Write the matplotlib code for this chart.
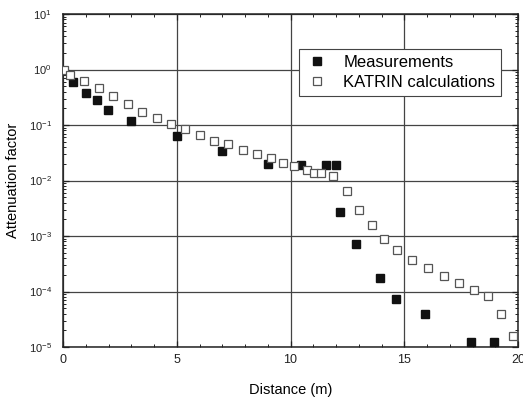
import matplotlib
matplotlib.use("Agg")
import matplotlib.pyplot as plt
from matplotlib.ticker import LogLocator, MultipleLocator, NullFormatter

plt.rcParams['font.family'] = ['Liberation Sans', 'DejaVu Sans']
plt.rcParams['mathtext.fontset'] = 'custom'
plt.rcParams['mathtext.rm'] = 'Liberation Sans'
plt.rcParams['mathtext.it'] = 'Liberation Sans'
plt.rcParams['mathtext.bf'] = 'Liberation Sans'

calc_x = [0.06, 0.31, 0.94, 1.58, 2.21, 2.84, 3.49, 4.12, 4.75, 5.36, 6.02, 6.64,
          7.27, 7.9, 8.54, 9.13, 9.65, 10.15, 10.74, 11.03, 11.33, 11.85, 12.47,
          13.01, 13.58, 14.1, 14.69, 15.36, 16.04, 16.73, 17.39, 18.05, 18.69,
          19.25, 19.78]
calc_y = [0.98, 0.8, 0.63, 0.47, 0.33, 0.24, 0.17, 0.133, 0.103, 0.083, 0.067, 0.052,
          0.045, 0.036, 0.030, 0.025, 0.021, 0.018, 0.0156, 0.0138, 0.0138, 0.0122,
          0.0065, 0.003, 0.00155, 0.00088, 0.00055, 0.00037, 0.00026, 0.00019,
          0.000144, 0.000107, 0.000084, 0.00004, 0.0000155]

meas_x = [0.45, 1.0, 1.51, 1.96, 2.99, 5.02, 6.97, 9.0, 10.45, 11.54, 11.99, 12.18,
          12.87, 13.93, 14.65, 15.9, 17.95, 18.96]
meas_y = [0.59, 0.37, 0.28, 0.19, 0.117, 0.063, 0.034, 0.020, 0.019, 0.019, 0.019,
          0.0027, 0.00072, 0.000178, 7.2e-5, 3.9e-5, 1.24e-5, 1.24e-5]

x_ticks = [0, 5, 10, 15, 20]

fig = plt.figure(figsize=(5.23, 3.98), dpi=100)
ax = fig.add_axes([63/523, 1-347/398, 455/523, 333/398])

ax.plot(meas_x, meas_y, linestyle='none', marker='s', markersize=6,
        markerfacecolor='#111111', markeredgecolor='#111111', label='Measurements', zorder=3)
ax.plot(calc_x, calc_y, linestyle='none', marker='s', markersize=6,
        markerfacecolor='white', markeredgecolor='#555555', markeredgewidth=0.9,
        label='KATRIN calculations', zorder=3)

ax.set_yscale('log')
ax.set_xlim(0, 20)
ax.set_ylim(1e-5, 10)
ax.set_xticks(x_ticks)
ax.set_xticklabels([str(v) for v in x_ticks])
ax.xaxis.set_minor_locator(MultipleLocator(1))
ax.yaxis.set_major_locator(LogLocator(base=10, numticks=10))
ax.yaxis.set_minor_locator(LogLocator(base=10, subs=range(2, 10), numticks=20))
ax.yaxis.set_minor_formatter(NullFormatter())

ax.grid(True, which='major', color='#444444', linewidth=0.9)
ax.set_axisbelow(True)
ax.tick_params(which='both', direction='in', top=True, right=True, colors='#222222')
ax.tick_params(which='major', length=4, width=0.9, labelsize=8, pad=5)
ax.tick_params(which='minor', length=2.5, width=0.7)
ax.tick_params(axis='y', pad=8)
ax.tick_params(axis='x', labelsize=9)
for s in ax.spines.values():
    s.set_linewidth(1.1)
    s.set_color('#222222')

ax.set_xlabel('Distance (m)', fontsize=10.5, labelpad=12)
ax.set_ylabel('Attenuation factor', fontsize=10.5, labelpad=6)

leg = ax.legend(loc='upper right', bbox_to_anchor=(0.963, 0.894), fontsize=12,
                frameon=True, fancybox=False, edgecolor='#444444', framealpha=1,
                handletextpad=0.8, handlelength=1.5, borderpad=0.35,
                labelspacing=0.3, borderaxespad=0, markerscale=0.9)
leg.get_frame().set_linewidth(0.8)

fig.savefig('out.png', dpi=100)
